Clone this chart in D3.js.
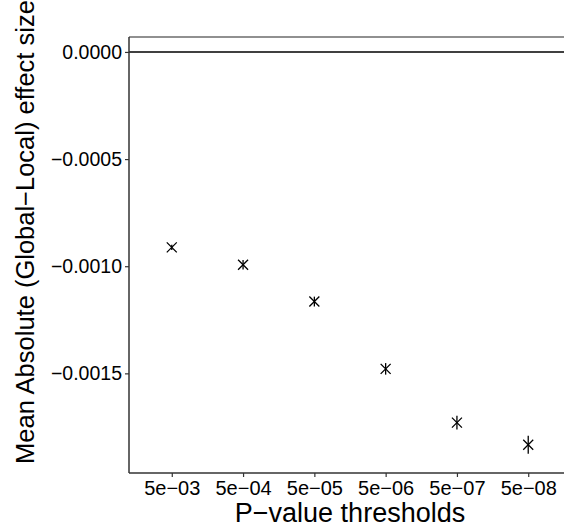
<!DOCTYPE html>
<html>
<head>
<meta charset="utf-8">
<script src="https://cdn.jsdelivr.net/npm/d3@7"></script>
<style>
  body { margin: 0; background: #fff; }
  svg { display: block; font-family: "Liberation Sans", Arial, sans-serif; }
</style>
</head>
<body>
<svg id="chart" width="564" height="530"></svg>
<script>
// data
var thresholds = ["5e-03", "5e-04", "5e-05", "5e-06", "5e-07", "5e-08"];
var meanDiff = [-0.000912, -0.000993, -0.001165, -0.001479, -0.001730, -0.001833];
var stdErr = [0.000012, 0.000022, 0.000023, 0.000027, 0.000032, 0.000042];
var yTicks = [0, -0.0005, -0.0010, -0.0015];
var yTickLabels = ["0.0000", "\u22120.0005", "\u22120.0010", "\u22120.0015"];

(function() {
  var svg = d3.select("#chart");
  // panel edges (the right side runs past the window like the reference)
  var pLeft = 129, pRight = 571, pTop = 37, pBottom = 473;

  var x = d3.scalePoint()
    .domain(thresholds)
    .range([pLeft, pRight])
    .padding(0.6);

  var y = d3.scaleLinear()
    .domain([-0.001965, 0.0000744])
    .range([pBottom, 36]);

  // top line of the panel
  svg.append("line")
    .attr("x1", pLeft).attr("x2", 564)
    .attr("y1", pTop).attr("y2", pTop)
    .attr("stroke", "#222").attr("stroke-width", 1.1);

  // reference line at zero
  svg.append("line")
    .attr("x1", pLeft).attr("x2", 564)
    .attr("y1", y(0)).attr("y2", y(0))
    .attr("stroke", "#000").attr("stroke-width", 1.5);

  // y axis
  var yAxis = d3.axisLeft(y)
    .tickValues(yTicks)
    .tickSize(4)
    .tickPadding(3)
    .tickFormat(function(d, i) { return yTickLabels[i]; });

  var gy = svg.append("g")
    .attr("transform", "translate(" + pLeft + ",0)")
    .call(yAxis);
  gy.select(".domain").attr("d", "M0," + pTop + "V" + pBottom).attr("stroke", "#333").attr("stroke-width", 1.5);
  gy.selectAll(".tick line").attr("stroke", "#333").attr("stroke-width", 1.2);
  gy.selectAll(".tick text")
    .attr("font-size", 19.5).attr("fill", "#000")
    .attr("font-family", "Liberation Sans, Arial, sans-serif");

  // x axis
  var xAxis = d3.axisBottom(x).tickSize(4).tickPadding(4)
    .tickFormat(function(d) { return d.replace("-", "\u2212"); });

  var gx = svg.append("g")
    .attr("transform", "translate(0," + pBottom + ")")
    .call(xAxis);
  gx.select(".domain").attr("d", "M" + pLeft + ",0H" + 564).attr("stroke", "#333").attr("stroke-width", 1.5);
  gx.selectAll(".tick line").attr("stroke", "#333").attr("stroke-width", 1.2);
  gx.selectAll(".tick text")
    .attr("font-size", 20).attr("fill", "#000")
    .attr("font-family", "Liberation Sans, Arial, sans-serif");

  // points: error bars + X markers
  var pts = svg.append("g").selectAll("g")
    .data(thresholds)
    .join("g")
    .attr("transform", function(d, i) { return "translate(" + x(d) + "," + y(meanDiff[i]) + ")"; });

  pts.append("line")
    .attr("x1", 0).attr("x2", 0)
    .attr("y1", function(d, i) { return y(meanDiff[i] + stdErr[i]) - y(meanDiff[i]); })
    .attr("y2", function(d, i) { return y(meanDiff[i] - stdErr[i]) - y(meanDiff[i]); })
    .attr("stroke", "#000").attr("stroke-width", 1.3);

  var s = 5;
  pts.append("path")
    .attr("d", "M" + (-s) + "," + (-s) + "L" + s + "," + s + "M" + (-s) + "," + s + "L" + s + "," + (-s))
    .attr("stroke", "#000").attr("stroke-width", 1.3).attr("fill", "none");

  // axis titles
  svg.append("text")
    .attr("x", (pLeft + pRight) / 2).attr("y", 522)
    .attr("text-anchor", "middle")
    .attr("font-size", 27)
    .text("P\u2212value thresholds");

  svg.append("text")
    .attr("transform", "translate(34,232) rotate(-90)")
    .attr("text-anchor", "middle")
    .attr("font-size", 25.5)
    .text("Mean Absolute (Global\u2212Local) effect size");
})();
</script>
</body>
</html>
